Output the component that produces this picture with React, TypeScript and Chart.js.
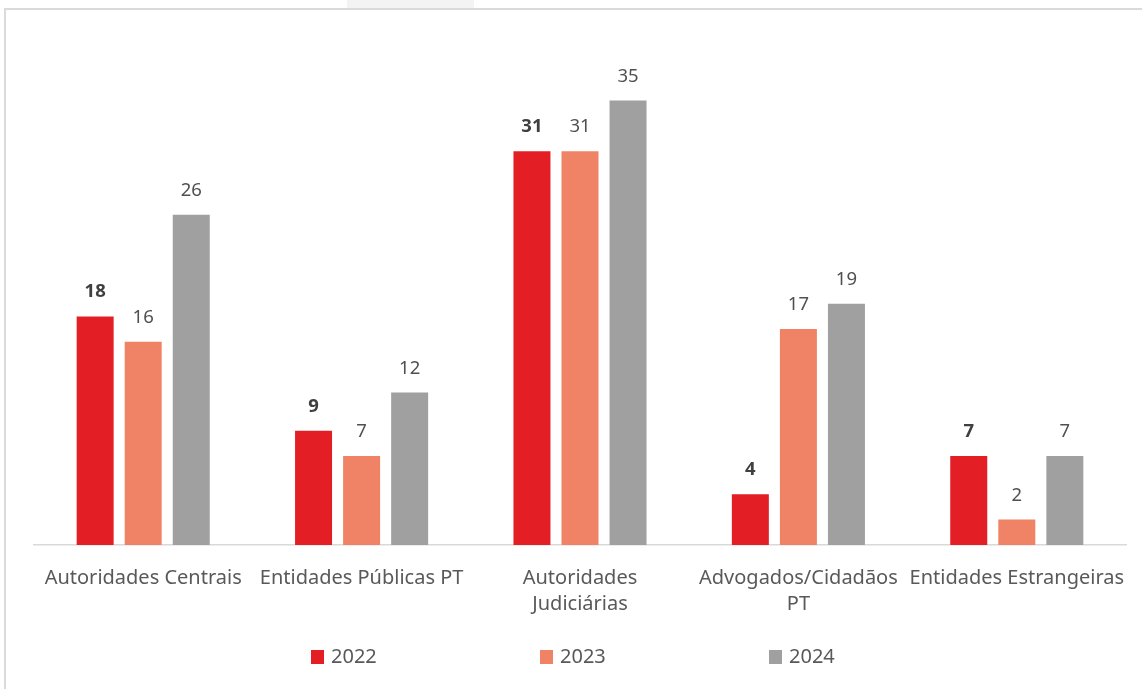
import React, { useEffect, useRef } from "react";
import { Chart, registerables } from "chart.js";

Chart.register(...registerables);

const categories: (string | string[])[] = [
  "Autoridades Centrais",
  "Entidades Públicas PT",
  ["Autoridades", "Judiciárias"],
  ["Advogados/Cidadãos", "PT"],
  "Entidades Estrangeiras",
];
const seriesNames = ["2022", "2023", "2024"];
const values2022 = [18, 9, 31, 4, 7];
const values2023 = [16, 7, 31, 17, 2];
const values2024 = [26, 12, 35, 19, 7];
const colors = ["#E31E24", "#F08366", "#A0A0A0"];

const FONT = "'Noto Sans', 'Open Sans', sans-serif";

const valueLabels = {
  id: "valueLabels",
  afterDatasetsDraw(chart: any) {
    const ctx = chart.ctx;
    ctx.save();
    ctx.textAlign = "center";
    ctx.textBaseline = "alphabetic";
    chart.data.datasets.forEach((ds: any, di: number) => {
      const meta = chart.getDatasetMeta(di);
      ctx.font = `${di === 0 ? "bold " : ""}18.5px ${FONT}`;
      ctx.fillStyle = di === 0 ? "#404040" : "#505050";
      meta.data.forEach((bar: any, i: number) => {
        ctx.fillText(String(ds.data[i]), bar.x, bar.y - 19);
      });
    });
    ctx.restore();
  },
};

const customLegend = {
  id: "customLegend",
  afterDraw(chart: any) {
    const ctx = chart.ctx;
    ctx.save();
    ctx.font = `20px ${FONT}`;
    ctx.textBaseline = "middle";
    ctx.textAlign = "left";
    const startX = 311;
    const step = 229;
    const y = 657;
    chart.data.datasets.forEach((ds: any, i: number) => {
      const x = startX + i * step;
      ctx.fillStyle = ds.backgroundColor;
      ctx.fillRect(x, y - 7, 13, 14);
      ctx.fillStyle = "#595959";
      ctx.fillText(ds.label, x + 20, y);
    });
    ctx.restore();
  },
};

export default function App() {
  const canvasRef = useRef<HTMLCanvasElement | null>(null);

  useEffect(() => {
    if (!canvasRef.current) return;
    const chart = new Chart(canvasRef.current, {
      type: "bar",
      data: {
        labels: categories,
        datasets: [values2022, values2023, values2024].map((vals, i) => ({
          label: seriesNames[i],
          data: vals,
          backgroundColor: colors[i],
          borderWidth: 0,
          categoryPercentage: 0.66,
          barPercentage: 0.77,
        })),
      },
      options: {
        animation: false,
        responsive: false,
        layout: { padding: { left: 34, right: 16, top: 37, bottom: 0 } },
        plugins: {
          legend: { display: false },
          tooltip: { enabled: false },
        },
        scales: {
          x: {
            grid: { display: false, drawTicks: false },
            border: { display: true, color: "#D9D9D9", width: 1.5 },
            ticks: {
              autoSkip: false,
              maxRotation: 0,
              minRotation: 0,
              padding: 20,
              color: "#595959",
              font: { family: FONT, size: 20, lineHeight: 1.3 },
            },
            afterFit: (scale: any) => {
              scale.height = 144;
              scale.paddingLeft = 0;
              scale.paddingRight = 0;
            },
          },
          y: {
            display: false,
            min: 0,
            max: 40,
          },
        },
      },
      plugins: [valueLabels, customLegend],
    });
    return () => chart.destroy();
  }, []);

  return (
    <div
      style={{
        position: "fixed",
        left: 0,
        top: 0,
        width: 1142,
        height: 689,
        background: "#FFFFFF",
        overflow: "hidden",
      }}
    >
      <div
        style={{
          position: "absolute",
          left: 347,
          top: 0,
          width: 127,
          height: 9,
          background: "#F3F3F3",
        }}
      />
      <div
        style={{
          position: "absolute",
          left: 4,
          top: 8,
          width: 1160,
          height: 700,
          border: "2px solid #DADADA",
          boxSizing: "border-box",
        }}
      />
      <canvas
        ref={canvasRef}
        width={1142}
        height={689}
        style={{ position: "absolute", left: 0, top: 0 }}
      />
    </div>
  );
}
